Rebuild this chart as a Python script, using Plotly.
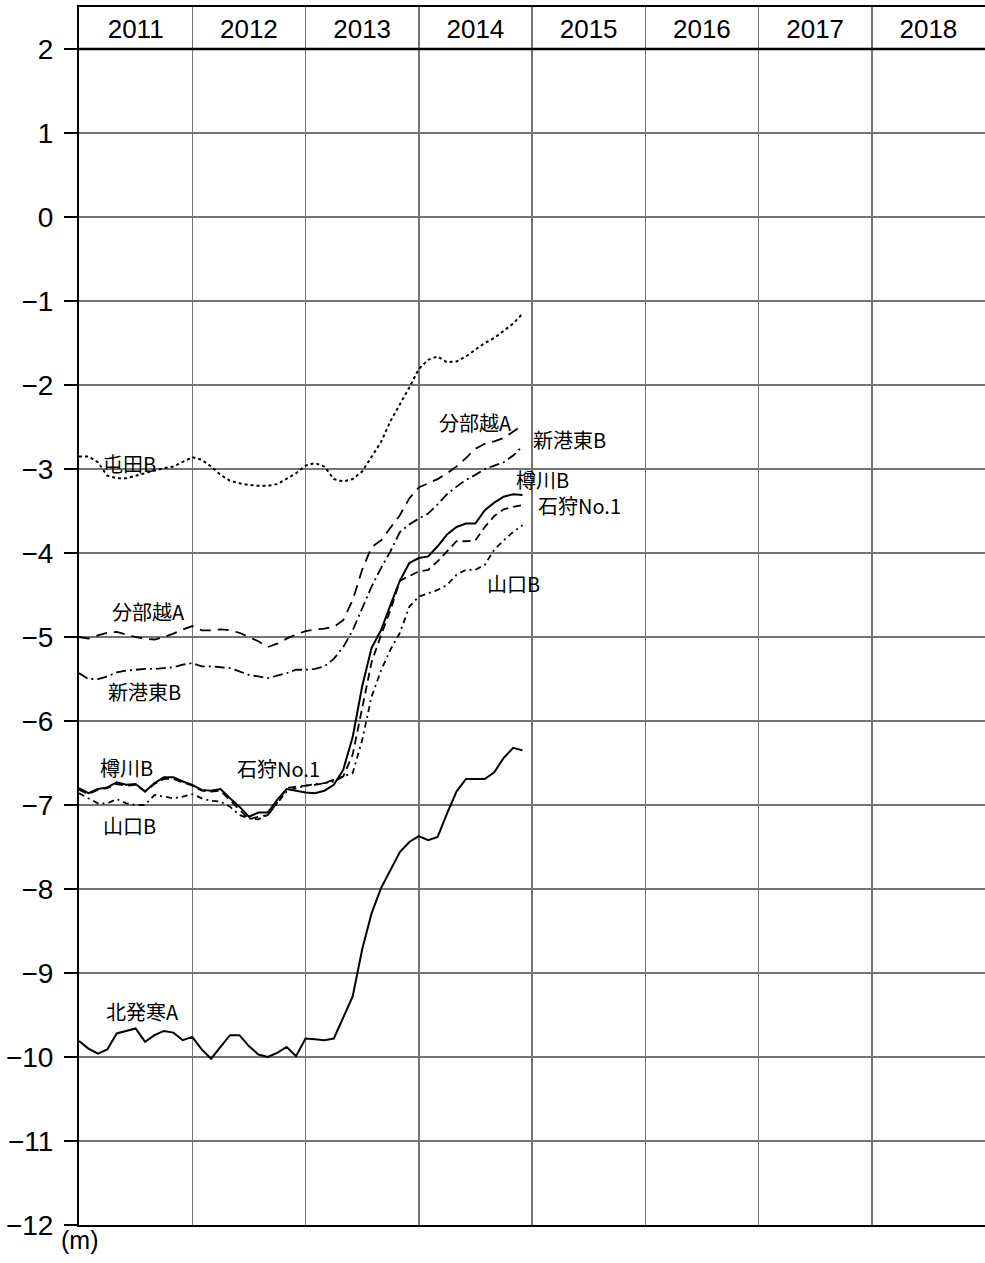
import plotly.graph_objects as go

# ---------------- data ----------------
years = [2011, 2012, 2013, 2014, 2015, 2016, 2017, 2018]
year_labels = [str(y) for y in years]
y_ticks = [-12, -11, -10, -9, -8, -7, -6, -5, -4, -3, -2, -1, 0, 1, 2]
months = list(range(48))  # monthly, Jan 2011 .. Dec 2014

tonden_b = [-2.85, -2.85, -2.92, -3.08, -3.11, -3.11, -3.08, -3.05, -3.02, -2.99, -2.97, -2.91,
            -2.86, -2.89, -2.97, -3.07, -3.14, -3.17, -3.19, -3.20, -3.20, -3.18, -3.12, -3.05,
            -2.96, -2.93, -2.97, -3.12, -3.15, -3.12, -3.03, -2.85, -2.68, -2.43, -2.23, -2.03,
            -1.81, -1.70, -1.66, -1.73, -1.72, -1.66, -1.58, -1.50, -1.44, -1.36, -1.27, -1.15]

wakkanai_a = [-5.00, -5.02, -4.98, -4.95, -4.94, -4.97, -5.00, -5.02, -5.03, -5.00, -4.96, -4.91,
              -4.87, -4.92, -4.92, -4.91, -4.92, -4.95, -5.00, -5.05, -5.12, -5.08, -5.02, -4.97,
              -4.93, -4.91, -4.90, -4.88, -4.80, -4.56, -4.20, -3.93, -3.85, -3.70, -3.55, -3.35,
              -3.22, -3.17, -3.12, -3.05, -2.97, -2.87, -2.76, -2.70, -2.67, -2.63, -2.56, -2.48]

shinkohigashi_b = [-5.43, -5.50, -5.50, -5.47, -5.42, -5.40, -5.39, -5.38, -5.38, -5.37, -5.36, -5.33,
                   -5.31, -5.35, -5.35, -5.36, -5.37, -5.41, -5.45, -5.47, -5.49, -5.46, -5.43, -5.39,
                   -5.39, -5.38, -5.35, -5.26, -5.12, -4.92, -4.65, -4.40, -4.18, -3.98, -3.75, -3.66,
                   -3.59, -3.53, -3.42, -3.30, -3.21, -3.13, -3.07, -3.00, -2.96, -2.92, -2.84, -2.73]

tarukawa_b = [-6.80, -6.86, -6.81, -6.79, -6.73, -6.76, -6.75, -6.84, -6.74, -6.67, -6.67, -6.72,
              -6.76, -6.82, -6.83, -6.81, -6.92, -7.02, -7.14, -7.09, -7.09, -6.94, -6.81, -6.83,
              -6.85, -6.86, -6.83, -6.76, -6.58, -6.19, -5.59, -5.13, -4.92, -4.62, -4.33, -4.12,
              -4.06, -4.04, -3.92, -3.78, -3.69, -3.65, -3.65, -3.49, -3.40, -3.33, -3.30, -3.31]

ishikari_no1 = [-6.82, -6.87, -6.82, -6.80, -6.75, -6.77, -6.76, -6.84, -6.75, -6.69, -6.69, -6.73,
                -6.77, -6.83, -6.84, -6.83, -6.94, -7.06, -7.17, -7.14, -7.12, -6.97, -6.80, -6.78,
                -6.77, -6.76, -6.74, -6.70, -6.66, -6.40, -5.85, -5.30, -4.98, -4.68, -4.33, -4.27,
                -4.22, -4.20, -4.10, -3.98, -3.86, -3.86, -3.85, -3.69, -3.56, -3.48, -3.45, -3.43]

yamaguchi_b = [-6.86, -6.92, -6.98, -6.98, -6.93, -6.98, -7.00, -7.00, -6.88, -6.90, -6.92, -6.90,
               -6.87, -6.92, -6.95, -6.96, -7.02, -7.12, -7.16, -7.17, -7.12, -6.98, -6.84, -6.80,
               -6.77, -6.75, -6.74, -6.72, -6.66, -6.62, -6.23, -5.71, -5.40, -5.15, -4.95, -4.64,
               -4.52, -4.48, -4.44, -4.38, -4.26, -4.20, -4.20, -4.14, -3.96, -3.85, -3.75, -3.67]

kitahassamu_a = [-9.81, -9.90, -9.96, -9.91, -9.72, -9.69, -9.66, -9.82, -9.74, -9.69, -9.71, -9.80,
                 -9.76, -9.91, -10.02, -9.88, -9.74, -9.74, -9.87, -9.97, -10.00, -9.95, -9.88, -9.99,
                 -9.78, -9.79, -9.80, -9.78, -9.52, -9.28, -8.72, -8.29, -7.99, -7.77, -7.56, -7.44,
                 -7.37, -7.42, -7.38, -7.10, -6.84, -6.69, -6.69, -6.69, -6.61, -6.44, -6.32, -6.35]

series_names = ["屯田B", "分部越A", "新港東B", "樽川B", "石狩No.1", "山口B", "北発寒A"]
series_values = [tonden_b, wakkanai_a, shinkohigashi_b, tarukawa_b, ishikari_no1, yamaguchi_b, kitahassamu_a]

# ---------------- styles ----------------
series_dash = ["dot", "11px,7px", "10px,4px,2px,4px", "solid", "8px,5px", "6px,4px,2px,4px", "solid"]
series_width = [2, 1.8, 1.8, 2, 1.8, 1.8, 2]

# label annotations (text, x, y)
label_positions = [
    ("屯田B", 2011.45, -2.93),
    ("分部越A", 2011.61, -4.70),
    ("新港東B", 2011.58, -5.65),
    ("樽川B", 2011.42, -6.55),
    ("山口B", 2011.45, -7.24),
    ("石狩No.1", 2012.76, -6.57),
    ("北発寒A", 2011.56, -9.46),
    ("分部越A", 2014.50, -2.45),
    ("新港東B", 2015.33, -2.65),
    ("樽川B", 2015.09, -3.12),
    ("石狩No.1", 2015.42, -3.43),
    ("山口B", 2014.84, -4.36),
]

x_vals = [2011 + m / 12 for m in months]

fig = go.Figure()
for name, vals, dash, w in zip(series_names, series_values, series_dash, series_width):
    fig.add_trace(go.Scatter(x=x_vals, y=vals, mode="lines", name=name,
                             line=dict(color="black", width=w, dash=dash),
                             showlegend=False, hoverinfo="skip"))

CJK = "Noto Sans CJK JP, sans-serif"
NUM = "Liberation Sans, Arial, sans-serif"

for text, lx, ly in label_positions:
    fig.add_annotation(x=lx, y=ly, xref="x", yref="y", text=text, showarrow=False,
                       font=dict(family=CJK, size=20, color="black"))

fig.add_annotation(x=0, y=-12, xref="paper", yref="y", text="(m)", showarrow=False,
                   xanchor="center", yanchor="top", yshift=1,
                   font=dict(family=NUM, size=25, color="black"))

# thick line under the year band
fig.add_shape(type="line", xref="paper", yref="y", x0=0, x1=1, y0=2, y1=2,
              line=dict(color="black", width=2.5), layer="above")

grid_col = "#747474"
fig.update_layout(
    width=985, height=1263,
    margin=dict(l=79, r=0, t=7, b=38, autoexpand=False),
    plot_bgcolor="white", paper_bgcolor="white",
    xaxis=dict(
        range=[2011, 2019], side="top", automargin=False,
        tickmode="array", tickvals=[y + 0.5 for y in years], ticktext=year_labels,
        ticklabelposition="inside", ticklabelstandoff=15, ticks="", showgrid=False, zeroline=False,
        showline=True, mirror=True, linecolor="black", linewidth=2,
        tickfont=dict(family=NUM, size=26, color="black"),
        minor=dict(tickmode="array", tickvals=years[1:], showgrid=True,
                   gridcolor=grid_col, gridwidth=1.5, ticks=""),
    ),
    yaxis=dict(
        range=[-12, 2.5], tickmode="array", tickvals=y_ticks, automargin=False,
        ticks="outside", ticklen=13, tickwidth=2, tickcolor="black",
        ticklabelstandoff=5,
        showgrid=True, gridcolor=grid_col, gridwidth=1.5, zeroline=False,
        showline=True, linecolor="black", linewidth=2,
        tickfont=dict(family=NUM, size=28, color="black"),
    ),
)

fig.write_html("out.html",
               config={"displayModeBar": False, "staticPlot": True},
               post_script="document.body.style.margin='0';document.body.style.overflow='hidden';")
